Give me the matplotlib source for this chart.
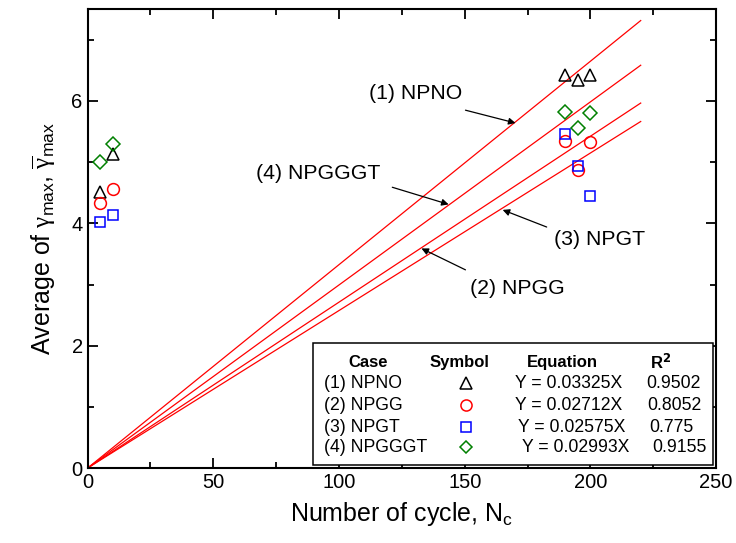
import numpy as np
import matplotlib
matplotlib.use('Agg')
import matplotlib.pyplot as plt
from matplotlib.patches import Rectangle

plt.rcParams['font.family'] = ['Liberation Sans', 'DejaVu Sans']
plt.rcParams['mathtext.fontset'] = 'custom'
plt.rcParams['mathtext.rm'] = 'Liberation Sans'
plt.rcParams['mathtext.it'] = 'Liberation Sans:italic'
plt.rcParams['mathtext.sf'] = 'Liberation Serif'

# data
cases = ['(1) NPNO', '(2) NPGG', '(3) NPGT', '(4) NPGGGT']
slopes = [0.03325, 0.02712, 0.02575, 0.02993]
r2 = ['0.9502', '0.8052', '0.775', '0.9155']
cycles = [5, 10, 190, 195, 200]
npno = [4.52, 5.13, 6.43, 6.34, 6.43]
npgg = [4.34, 4.56, 5.34, 4.88, 5.33]
npgt = [4.03, 4.13, 5.46, 4.93, 4.44]
npgggt = [5.00, 5.30, 5.82, 5.56, 5.81]
fit_x = [0, 220]

colors = ['black', 'red', 'blue', 'green']
markers = ['^', 'o', 's', 'D']
sizes = [9, 8.5, 7.5, 7]
series = [npno, npgg, npgt, npgggt]

fig = plt.figure(figsize=(7.36, 5.43), dpi=100)
ax = fig.add_axes([0.119, 0.138, 0.854, 0.845])

for s in slopes:
    ax.plot(fit_x, [s * v for v in fit_x], color='red', lw=0.9, zorder=2)

for ys, c, m, ms in zip(series, colors, markers, sizes):
    ax.plot(cycles, ys, linestyle='none', marker=m, ms=ms, mfc='none',
            mec=c, mew=1.1, zorder=3)

arrow = dict(arrowstyle='-|>', color='black', lw=0.9, mutation_scale=10,
             shrinkA=0, shrinkB=0)
ax.text(130.4, 6.13, '(1) NPNO', fontsize=15.3, ha='center', va='center')
ax.annotate('', xy=(170.2, 5.64), xytext=(150.3, 5.85), arrowprops=arrow)
ax.text(91.8, 4.82, '(4) NPGGGT', fontsize=15.3, ha='center', va='center')
ax.annotate('', xy=(143.6, 4.31), xytext=(121.2, 4.59), arrowprops=arrow)
ax.text(203.7, 3.73, '(3) NPGT', fontsize=15.3, ha='center', va='center')
ax.annotate('', xy=(165.1, 4.22), xytext=(182.6, 3.94), arrowprops=arrow)
ax.text(171, 2.94, '(2) NPGG', fontsize=15.3, ha='center', va='center')
ax.annotate('', xy=(132.8, 3.59), xytext=(150.3, 3.24), arrowprops=arrow)

ax.set_xlim(0, 250)
ax.set_ylim(0, 7.5)
ax.set_xticks([0, 50, 100, 150, 200, 250])
ax.set_xticks(np.arange(25, 250, 50), minor=True)
ax.set_yticks([0, 2, 4, 6])
ax.set_yticks([1, 3, 5, 7], minor=True)
ax.tick_params(which='both', direction='in', top=True, right=True,
               labelsize=14.5, width=1.3)
ax.tick_params(which='major', length=7)
ax.tick_params(which='minor', length=4)
for sp in ax.spines.values():
    sp.set_linewidth(1.5)

ax.set_xlabel('Number of cycle, N$_{\\mathrm{c}}$', fontsize=18, labelpad=6)
ax.set_ylabel(r'Average of $\mathsf{\gamma}_{\mathrm{max}}$, '
              r'$\overline{\mathsf{\gamma}}_{\mathrm{max}}$',
              fontsize=18, labelpad=10)

# summary table in the lower right corner
tr = ax.transAxes
def ax_xy(px, py):
    return ((px - 87.7) / (716 - 87.7), (468 - py) / (468 - 9))

x0, y0 = ax_xy(313, 465)
x1, y1 = ax_xy(713, 343)
ax.add_patch(Rectangle((x0, y0), x1 - x0, y1 - y0, transform=tr,
                       facecolor='white', edgecolor='black', lw=1.1, zorder=5))
hy = ax_xy(0, 362)[1]
for px, txt in [(368, 'Case'), (459, 'Symbol'), (562, 'Equation'),
                (660, 'R$^{\\mathbf{2}}$')]:
    ax.text(ax_xy(px, 0)[0], hy, txt, transform=tr, fontsize=12,
            fontweight='bold', ha='center', va='center', zorder=6)
rows_py = [383, 405, 427, 447]
eq_px = [515, 515, 518, 522]
r2_px = [646, 647, 649, 652]
for i in range(4):
    ry = ax_xy(0, rows_py[i])[1]
    ax.text(ax_xy(324, 0)[0], ry, cases[i], transform=tr, fontsize=12.7,
            ha='left', va='center', zorder=6)
    ax.plot([ax_xy(466, 0)[0]], [ry], transform=tr, linestyle='none',
            marker=markers[i], ms=sizes[i] - 0.5, mfc='none', mec=colors[i],
            mew=1.1, zorder=6, clip_on=False)
    ax.text(ax_xy(eq_px[i], 0)[0], ry, 'Y = %.5fX' % slopes[i], transform=tr,
            fontsize=12.7, ha='left', va='center', zorder=6)
    ax.text(ax_xy(r2_px[i], 0)[0], ry, r2[i], transform=tr, fontsize=12.7,
            ha='left', va='center', zorder=6)

fig.savefig('out.png', dpi=100)
